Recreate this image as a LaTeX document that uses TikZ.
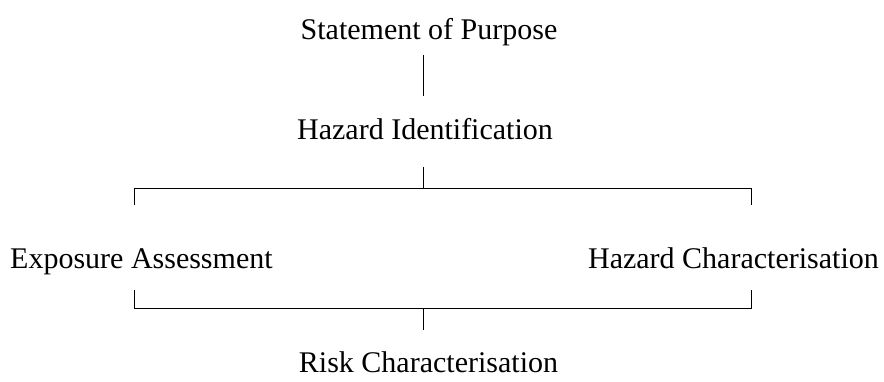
\documentclass[tikz,border=0pt]{standalone}
\usepackage{fontspec}
\setmainfont{Liberation Serif}
\begin{document}
\begin{tikzpicture}[x=1pt,y=-1pt,
  lbl/.style={inner sep=0pt,font=\fontsize{30}{36}\selectfont},
  conn/.style={line width=1pt,black}]
\useasboundingbox (0,0) rectangle (884,381);
\node[lbl,anchor=base] (sp) at (429,39) {Statement of Purpose};
\node[lbl,anchor=base] (hi) at (425,139) {Hazard Identification};
\node[lbl,anchor=base west] (ea) at (10,268) {Exposure Assessment};
\node[lbl,anchor=base east] (hc) at (879,268) {Hazard Characterisation};
\node[lbl,anchor=base] (rc) at (428.5,372) {Risk Characterisation};
% connector points
\coordinate (a1) at (423,55);
\coordinate (a2) at (423,96);
\coordinate (b1) at (423,167);
\coordinate (b2) at (423,188);
\coordinate (bl) at (134,188);
\coordinate (br) at (751,188);
\coordinate (blE) at (134,205);
\coordinate (brE) at (751,205);
\coordinate (cl) at (134,290);
\coordinate (cr) at (751,290);
\coordinate (clB) at (134,308);
\coordinate (crB) at (751,308);
\coordinate (c1) at (423,308);
\coordinate (c2) at (423,330);
\draw[conn] (a1) -- (a2);
\draw[conn] (b1) -- (b2);
\draw[conn] (blE) -- (bl) -- (br) -- (brE);
\draw[conn] (cl) -- (clB) -- (crB) -- (cr);
\draw[conn] (c1) -- (c2);
\end{tikzpicture}
\end{document}
